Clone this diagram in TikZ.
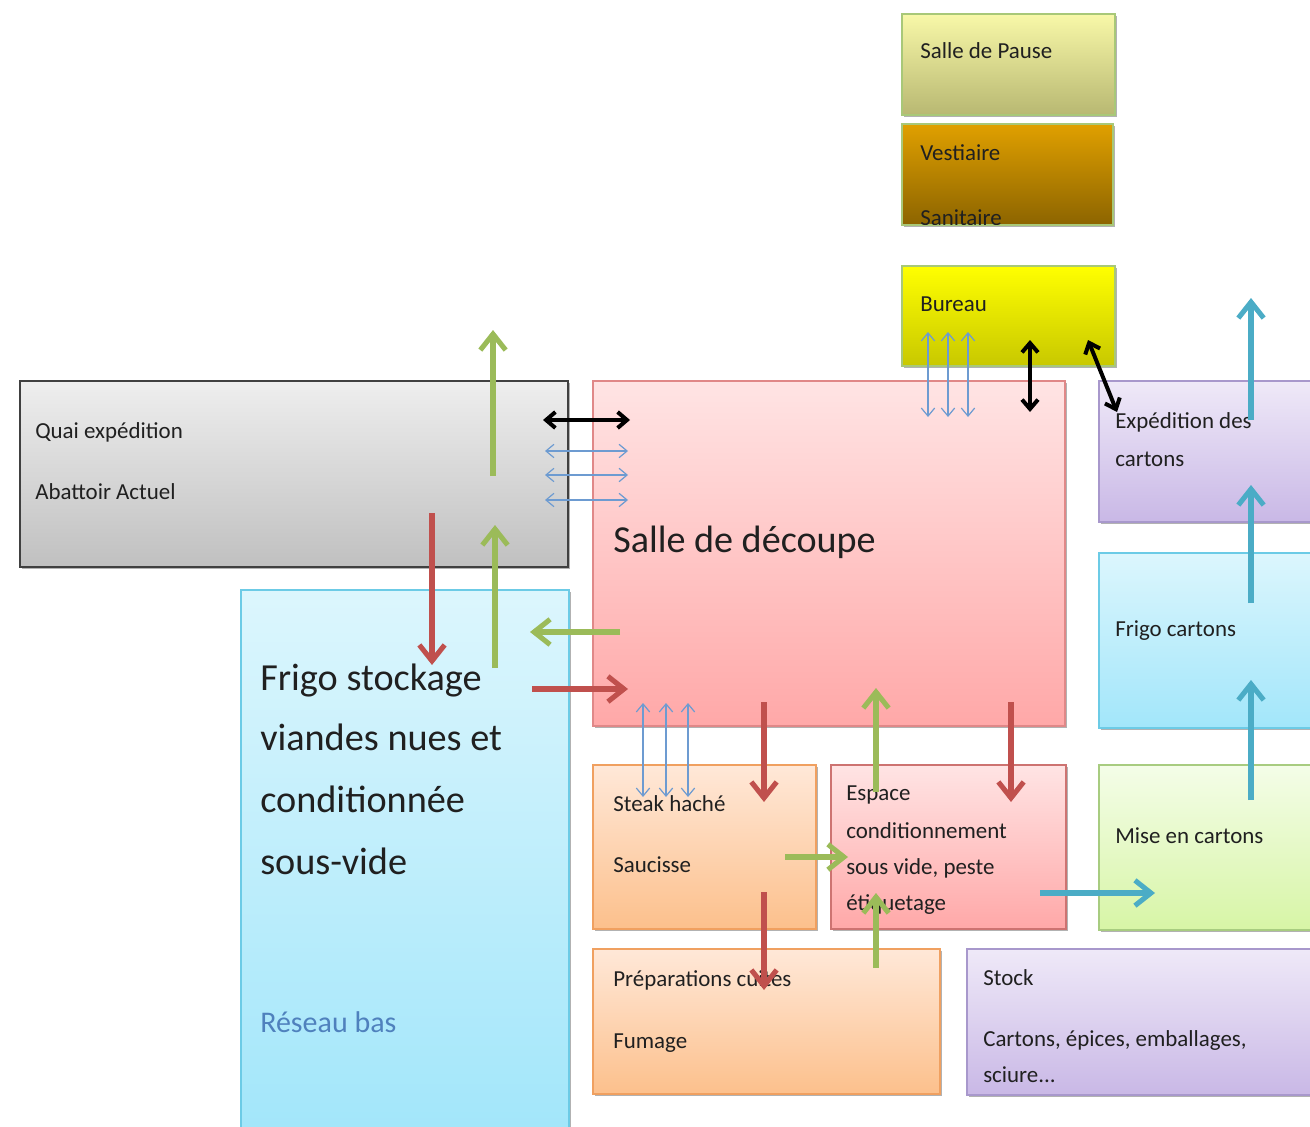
\documentclass[tikz,border=0pt]{standalone}
\usepackage{fontspec}
\setmainfont{Carlito}
\usetikzlibrary{arrows.meta,shadows}
\definecolor{pauseT}{HTML}{F8F8A8}\definecolor{pauseB}{HTML}{B8B872}
\definecolor{vestT}{HTML}{E0A000}\definecolor{vestB}{HTML}{8C6400}
\definecolor{burT}{HTML}{FFFF00}\definecolor{burB}{HTML}{C8C800}
\definecolor{topD}{HTML}{A8C878}
\definecolor{quaiT}{HTML}{EEEEEE}\definecolor{quaiB}{HTML}{C0C0C0}\definecolor{quaiD}{HTML}{404040}
\definecolor{pinkT}{HTML}{FFE4E4}\definecolor{pinkB}{HTML}{FFA8A8}\definecolor{pinkD}{HTML}{E08888}
\definecolor{lavT}{HTML}{EFE9F8}\definecolor{lavB}{HTML}{C9B8E6}\definecolor{lavD}{HTML}{A898CC}
\definecolor{cyT}{HTML}{DCF6FD}\definecolor{cyB}{HTML}{A2E6FA}\definecolor{cyD}{HTML}{6CCBE6}
\definecolor{grT}{HTML}{F4FDE8}\definecolor{grB}{HTML}{D7F5A6}\definecolor{grD}{HTML}{A8CC80}
\definecolor{orT}{HTML}{FFE8D8}\definecolor{orB}{HTML}{FCC08C}\definecolor{orD}{HTML}{F0A060}
\definecolor{fgreen}{HTML}{9BBB59}\definecolor{fred}{HTML}{C0504D}\definecolor{fcyan}{HTML}{4BACC6}
\definecolor{thinblue}{HTML}{6D9BD1}\definecolor{txt}{HTML}{202020}\definecolor{reseau}{HTML}{4F81BD}
\tikzset{
  room/.style={rectangle, anchor=north west, inner sep=0pt, outer sep=0pt, line width=0.9pt,
    drop shadow={shadow xshift=1.5pt,shadow yshift=-1.5pt,opacity=0.3,fill=black}},
  lbl/.style={anchor=base west, inner sep=0pt, text=txt, font=\fontsize{17.2}{20}\selectfont},
  big/.style={anchor=base west, inner sep=0pt, text=txt, font=\fontsize{28.7}{34}\selectfont},
  flow/.style={line width=3.8pt, -{Straight Barb[length=12pt,width=19pt]}},
  bk/.style={line width=3pt, draw=black, {Straight Barb[length=7pt,width=12pt]}-{Straight Barb[length=7pt,width=12pt]}},
  bl/.style={line width=0.9pt, draw=thinblue, {Straight Barb[length=6pt,width=10pt]}-{Straight Barb[length=6pt,width=10pt]}}
}
\begin{document}
\begin{tikzpicture}[x=0.75pt,y=-0.75pt]
\useasboundingbox (0,0) rectangle (1310,1127);
% rooms
\node[room, top color=pauseT, bottom color=pauseB, draw=topD, minimum width=213*0.75pt, minimum height=101*0.75pt] (pause) at (902,14) {};
\node[room, top color=vestT, bottom color=vestB, draw=topD, minimum width=211*0.75pt, minimum height=101*0.75pt] (vest) at (902,124) {};
\node[room, top color=burT, bottom color=burB, draw=topD, minimum width=213*0.75pt, minimum height=100*0.75pt] (bureau) at (902,266) {};
\node[room, top color=quaiT, bottom color=quaiB, draw=quaiD, line width=1.3pt, minimum width=548*0.75pt, minimum height=186*0.75pt] (quai) at (20,381) {};
\node[room, top color=pinkT, bottom color=pinkB, draw=pinkD, minimum width=472*0.75pt, minimum height=345*0.75pt] (salle) at (593,381) {};
\node[room, top color=lavT, bottom color=lavB, draw=lavD, minimum width=217*0.75pt, minimum height=141*0.75pt] (exped) at (1099,381) {};
\node[room, top color=cyT, bottom color=cyB, draw=cyD, minimum width=217*0.75pt, minimum height=175*0.75pt] (fcart) at (1099,553) {};
\node[room, top color=grT, bottom color=grB, draw=grD, minimum width=217*0.75pt, minimum height=165*0.75pt] (mise) at (1099,765) {};
\node[room, top color=cyT, bottom color=cyB, draw=cyD, minimum width=328*0.75pt, minimum height=545*0.75pt] (frigo) at (241,590) {};
\node[room, top color=orT, bottom color=orB, draw=orD, minimum width=223*0.75pt, minimum height=164*0.75pt] (steak) at (593,765) {};
\node[room, top color=pinkT, bottom color=pinkB, draw=fred!80, minimum width=235*0.75pt, minimum height=164*0.75pt] (espace) at (831,765) {};
\node[room, top color=orT, bottom color=orB, draw=orD, minimum width=347*0.75pt, minimum height=145*0.75pt] (prep) at (593,949) {};
\node[room, top color=lavT, bottom color=lavB, draw=lavD, minimum width=349*0.75pt, minimum height=146*0.75pt] (stock) at (967,949) {};
% labels
\node[lbl] (tpause) at (920,59) {Salle de Pause};
\node[lbl] (tvest) at (920,161) {Vestiaire};
\begin{scope}
\clip (902,124) rectangle (1113,224);
\node[lbl] (tsan) at (920,225) {Sanitaire};
\end{scope}
\node[lbl] (tbur) at (920,311) {Bureau};
\node[lbl] (tquai1) at (35,438) {Quai expédition};
\node[lbl] (tquai2) at (35,499) {Abattoir Actuel};
\node[anchor=base west, inner sep=0pt, text=txt, font=\fontsize{28.6}{34}\selectfont] (tsalle) at (613,552) {Salle de découpe};
\node[lbl] (texp1) at (1115,428) {Expédition des};
\node[lbl] (texp2) at (1115,466) {cartons};
\node[lbl] (tfc) at (1115,636) {Frigo cartons};
\node[lbl] (tmise) at (1115,843) {Mise en cartons};
\node[lbl] (tst1) at (613,811) {Steak haché};
\node[lbl] (tst2) at (613,872) {Saucisse};
\node[lbl] (tes1) at (846,800) {Espace};
\node[lbl] (tes2) at (846,838) {conditionnement};
\node[lbl] (tes3) at (846,874) {sous vide, peste};
\node[lbl] (tes4) at (846,910) {étiquetage};
\node[lbl] (tpr1) at (613,986) {Préparations cuites};
\node[lbl] (tpr2) at (613,1048) {Fumage};
\node[lbl] (tsk1) at (983,985) {Stock};
\node[lbl] (tsk2) at (983,1046) {Cartons, épices, emballages,};
\node[lbl] (tsk3) at (983,1082) {sciure...};
\node[big] (tfr1) at (260,690) {Frigo stockage};
\node[big] (tfr2) at (260,750) {viandes nues et};
\node[big] (tfr3) at (260,812) {conditionnée};
\node[big] (tfr4) at (260,874) {sous-vide};
\node[anchor=base west, inner sep=0pt, text=reseau, font=\fontsize{22.5}{26}\selectfont] (tres) at (260,1032) {Réseau bas};
% arrow end points
\coordinate (g1a) at (493,476); \coordinate (g1b) at (493,330);
\coordinate (g2a) at (495,668); \coordinate (g2b) at (495,525);
\coordinate (g3a) at (620,632); \coordinate (g3b) at (530,632);
\coordinate (g4a) at (876,792); \coordinate (g4b) at (876,688);
\coordinate (g5a) at (876,968); \coordinate (g5b) at (876,893);
\coordinate (g6a) at (785,857); \coordinate (g6b) at (848,857);
\coordinate (r1a) at (432,513); \coordinate (r1b) at (432,665);
\coordinate (r2a) at (532,689); \coordinate (r2b) at (628,689);
\coordinate (r3a) at (764,702); \coordinate (r3b) at (764,802);
\coordinate (r4a) at (1011,702); \coordinate (r4b) at (1011,802);
\coordinate (r5a) at (764,892); \coordinate (r5b) at (764,990);
\coordinate (c1a) at (1040,893); \coordinate (c1b) at (1155,893);
\coordinate (c2a) at (1251,800); \coordinate (c2b) at (1251,680);
\coordinate (c3a) at (1251,603); \coordinate (c3b) at (1251,485);
\coordinate (c4a) at (1251,420); \coordinate (c4b) at (1251,298);
\coordinate (k1a) at (543,420); \coordinate (k1b) at (630,420);
\coordinate (k2a) at (1030,340); \coordinate (k2b) at (1030,412);
\coordinate (k3a) at (1088,340); \coordinate (k3b) at (1117,412);
\coordinate (bh1a) at (545,451); \coordinate (bh1b) at (628,451);
\coordinate (bh2a) at (545,475); \coordinate (bh2b) at (628,475);
\coordinate (bh3a) at (545,500); \coordinate (bh3b) at (628,500);
\coordinate (bt1a) at (928,332); \coordinate (bt1b) at (928,417);
\coordinate (bt2a) at (948,332); \coordinate (bt2b) at (948,417);
\coordinate (bt3a) at (968,332); \coordinate (bt3b) at (968,417);
\coordinate (bb1a) at (643,703); \coordinate (bb1b) at (643,797);
\coordinate (bb2a) at (666,703); \coordinate (bb2b) at (666,797);
\coordinate (bb3a) at (688,703); \coordinate (bb3b) at (688,797);
% thin blue double arrows
\foreach \n in {bh1,bh2,bh3,bt1,bt2,bt3,bb1,bb2,bb3} \draw[bl] (\n a) -- (\n b);
% black double arrows
\foreach \n in {k1,k2,k3} \draw[bk] (\n a) -- (\n b);
% flows
\foreach \n in {g1,g2,g3,g4,g5,g6} \draw[flow, draw=fgreen] (\n a) -- (\n b);
\foreach \n in {r1,r2,r3,r4,r5} \draw[flow, draw=fred] (\n a) -- (\n b);
\foreach \n in {c1,c2,c3,c4} \draw[flow, draw=fcyan] (\n a) -- (\n b);
\end{tikzpicture}
\end{document}
